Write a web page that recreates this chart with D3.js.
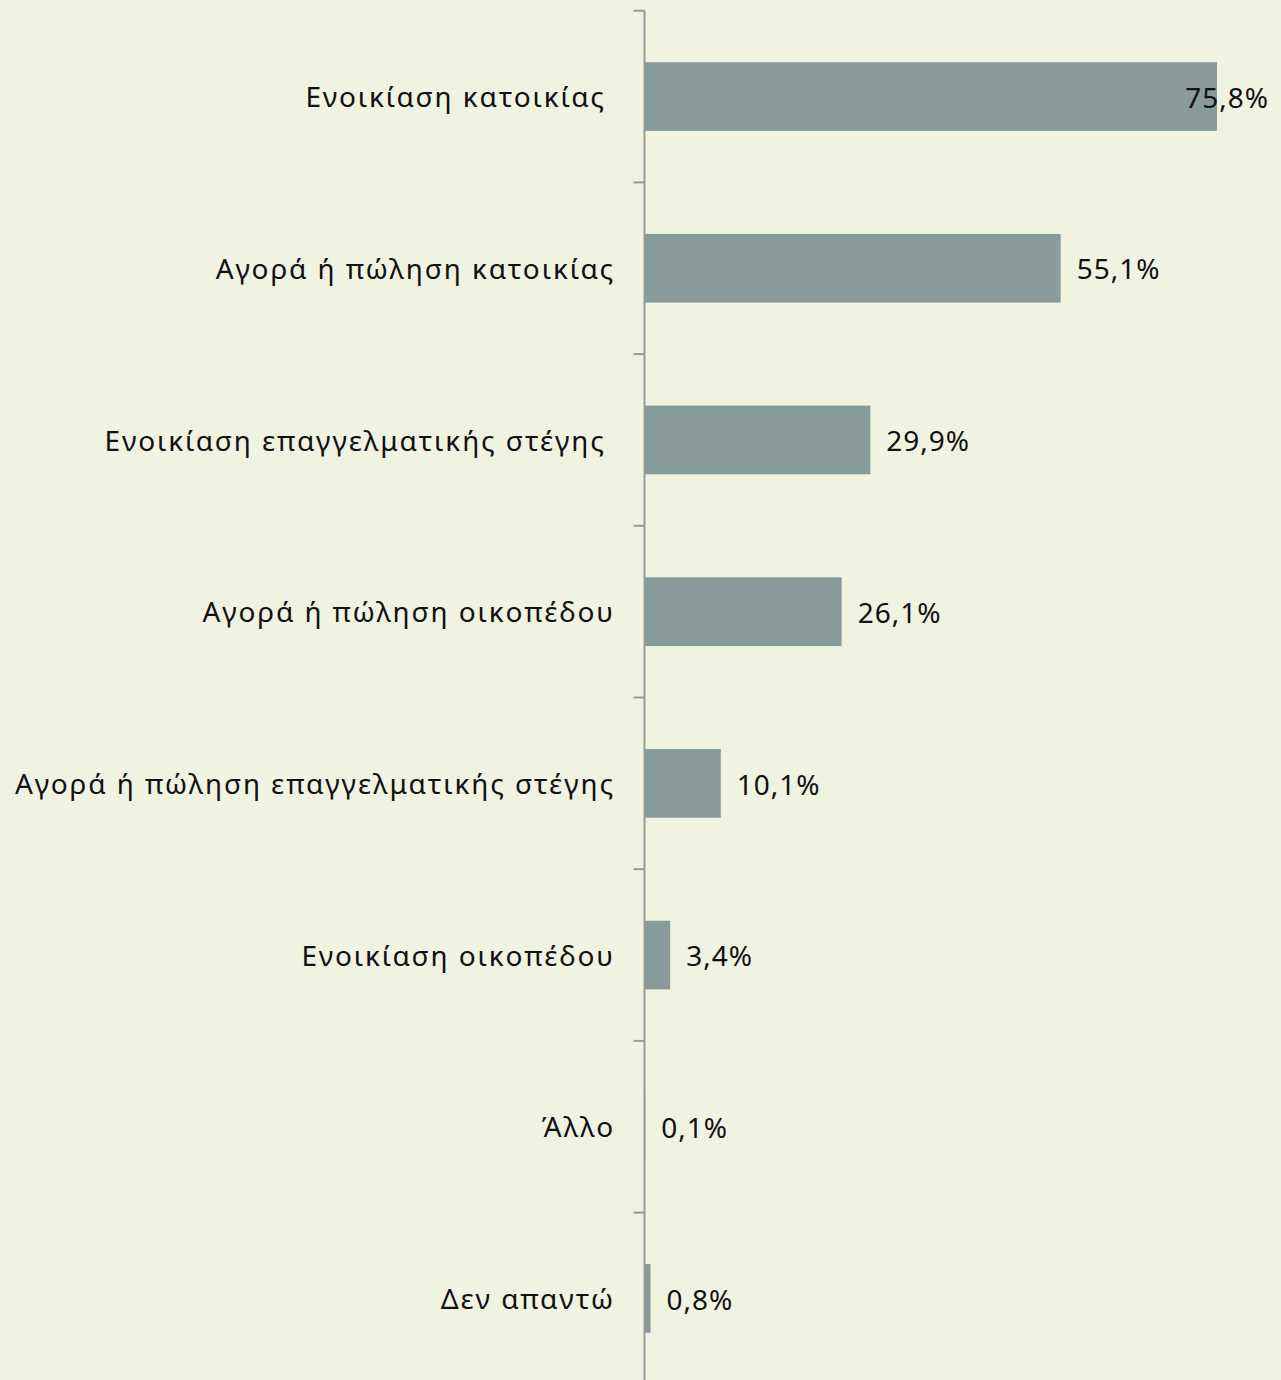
<!DOCTYPE html>
<html><head><meta charset="utf-8">
<script src="https://cdn.jsdelivr.net/npm/d3@7"></script>
<style>
html,body{margin:0;padding:0;background:#f1f3e1;}
svg{display:block;}
text{white-space:pre;}
</style></head>
<body>
<svg id="c" width="1281" height="1380"></svg>
<script>
const categories = ["Ενοικίαση κατοικίας ", "Αγορά ή πώληση κατοικίας", "Ενοικίαση επαγγελματικής στέγης ", "Αγορά ή πώληση οικοπέδου", "Αγορά ή πώληση επαγγελματικής στέγης", "Ενοικίαση οικοπέδου", "Άλλο", "Δεν απαντώ"];
const values = [75.8, 55.1, 29.9, 26.1, 10.1, 3.4, 0.1, 0.8];
const valueLabels = ["75,8%", "55,1%", "29,9%", "26,1%", "10,1%", "3,4%", "0,1%", "0,8%"];

const W = 1281, H = 1380;
const FONT = "'Noto Sans', sans-serif";
const svg = d3.select("#c");
svg.append("rect").attr("width", W).attr("height", H).attr("fill", "#f1f3e1");

const x0 = 644.5;
const x = d3.scaleLinear().domain([0, 75.8]).range([x0, 1217]);
const y = d3.scaleBand().domain(categories).range([10.7, 10.7 + 171.7 * 8]).padding(0);
const bh = y.bandwidth() * 0.4;

svg.append("g").selectAll("rect.bar").data(values).join("rect")
  .attr("class", "bar")
  .attr("x", x0)
  .attr("y", (d, i) => y(categories[i]) + (y.bandwidth() - bh) / 2)
  .attr("width", d => x(d) - x0)
  .attr("height", bh)
  .attr("fill", "#899a9b");

const ag = svg.append("g");
ag.append("line").attr("x1", x0).attr("x2", x0).attr("y1", 10.7).attr("y2", H).attr("stroke", "#999").attr("stroke-width", 2);
ag.selectAll("line.t").data(categories).join("line").attr("class", "t")
  .attr("x1", x0 - 11).attr("x2", x0)
  .attr("y1", d => y(d)).attr("y2", d => y(d))
  .attr("stroke", "#999").attr("stroke-width", 2);

svg.append("g").selectAll("text").data(categories).join("text")
  .attr("x", 615)
  .attr("y", d => y(d) + y.bandwidth() / 2)
  .attr("dy", "0.38em")
  .attr("text-anchor", "end")
  .attr("letter-spacing", 1.9)
  .attr("font-family", FONT).attr("font-size", 28).attr("fill", "#111")
  .text(d => d);

const vl = svg.append("g").selectAll("text").data(values).join("text")
  .attr("y", (d, i) => y(categories[i]) + y.bandwidth() / 2)
  .attr("dy", "0.4em")
  .attr("letter-spacing", 1)
  .attr("font-family", FONT).attr("font-size", 28).attr("fill", "#111")
  .text((d, i) => valueLabels[i]);
vl.each(function(d) {
  const w = this.getComputedTextLength();
  let xx = x(d) + 16;
  if (xx + w > 1269) xx = 1269 - w;
  d3.select(this).attr("x", xx);
});
</script>
</body></html>
